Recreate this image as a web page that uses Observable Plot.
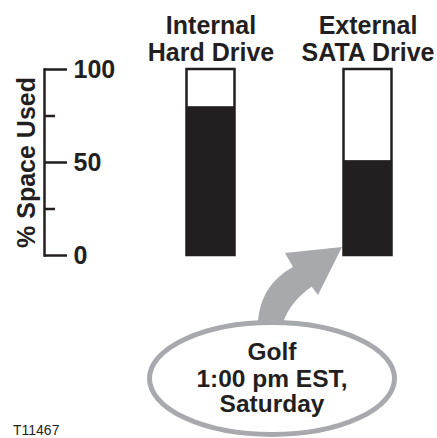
<!DOCTYPE html>
<html><head><meta charset="utf-8">
<script src="https://cdn.jsdelivr.net/npm/d3@7"></script>
<script src="https://cdn.jsdelivr.net/npm/@observablehq/plot@0.6"></script>
<style>
html,body{margin:0;padding:0;background:#fff;}
svg{display:block;}
</style>
</head><body><div id="chart"></div>
<script>
const drives = ["Internal\nHard Drive", "External\nSATA Drive"];
const capacity = [100, 100];
const used = [80, 51];
const majorTicks = [0, 50, 100];
const minorTicks = [25, 75];
const yLabel = "% Space Used";
const callout = ["Golf", "1:00 pm EST,", "Saturday"];
const figureId = "T11467";

const INK = "#231f20", GRAY = "#a7a9ac";
const FONT = "'Liberation Sans', Arial, Helvetica, sans-serif";
const rows = drives.map((d, i) => ({drive: d, capacity: capacity[i], used: used[i]}));

const plot = Plot.plot({
  width: 437, height: 438,
  marginLeft: 44, marginRight: 14, marginTop: 69, marginBottom: 183,
  style: {fontFamily: FONT, background: "white", color: INK},
  x: {domain: drives, range: [155.1, 422.9], paddingInner: 0.6943, paddingOuter: 0.2, round: false, axis: null},
  y: {domain: [0, 100], axis: null},
  marks: [
    Plot.frame({anchor: "left", stroke: INK, strokeWidth: 2.5}),
    Plot.axisY({ticks: minorTicks, tickSize: -11, strokeWidth: 2.5, stroke: INK, fill: "none", label: null}),
    Plot.axisY({ticks: majorTicks, tickSize: -23, strokeWidth: 2.5, stroke: INK, tickPadding: -6, textAnchor: "start", fontSize: 25, fontWeight: "bold", fill: INK, label: null}),
    Plot.barY(rows, {x: "drive", y: "capacity", fill: "white", stroke: INK, strokeWidth: 2.5}),
    Plot.barY(rows, {x: "drive", y: "used", fill: INK}),
    Plot.text(rows, {x: "drive", text: "drive", frameAnchor: "top", lineAnchor: "bottom", dy: -9, fontSize: 25, fontWeight: "bold", lineHeight: 1.08, fill: INK}),
    Plot.text([yLabel], {text: d => d, frameAnchor: "left", textAnchor: "middle", dx: -18, rotate: -90, fontSize: 25, fontWeight: "bold", fill: INK})
  ]
});
document.getElementById("chart").append(plot);

// callout annotation, anchored to the external drive bar
const xs = plot.scale("x"), ys = plot.scale("y");
const tipX = xs.apply(drives[1]) - 1.5, tipY = ys.apply(0) - 8;
const svg = d3.select(plot);
const g = svg.append("g").attr("transform", `translate(${tipX},${tipY})`);
g.append("path")
  .attr("d", "M-84,75 C-82,51 -72,33 -49,20 L-57,6 L0,0 L-24,48 L-30.3,39.7 C-44,49 -54,61 -58.7,75 Z")
  .attr("fill", GRAY);
g.append("ellipse")
  .attr("cx", -70).attr("cy", 131.5).attr("rx", 122.5).attr("ry", 56)
  .attr("fill", "white").attr("stroke", GRAY).attr("stroke-width", 5);
const t = g.append("text")
  .attr("text-anchor", "middle")
  .attr("font-family", FONT).attr("font-size", 24.5).attr("font-weight", "bold").attr("fill", INK);
const baselines = [113, 139.7, 164.7];
callout.forEach((line, i) => t.append("tspan").attr("x", -70).attr("y", baselines[i]).text(line));

svg.append("text")
  .attr("x", 13).attr("y", 435)
  .attr("text-anchor", "start")
  .attr("font-family", FONT).attr("font-size", 14).attr("fill", INK)
  .text(figureId);
</script>
</body></html>
